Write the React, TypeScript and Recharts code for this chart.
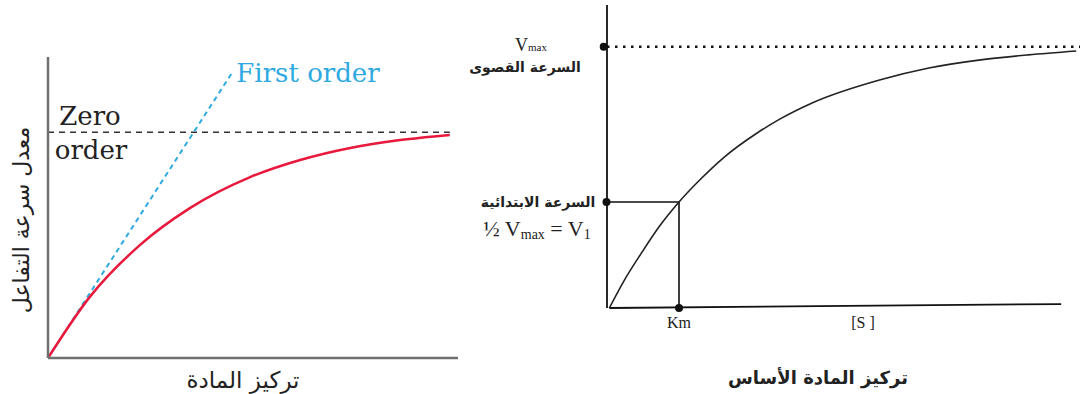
import { LineChart, Line, XAxis, YAxis, ReferenceDot } from "recharts";

// left panel: reaction rate vs substrate concentration
const leftX = [0, 10.2, 22.4, 34.6, 49.3, 61.5, 73.7, 85.9, 98];
const reactionRate = [0, 20.3, 37.5, 49.8, 60.1, 65.8, 69.8, 72.4, 74.1];
const firstOrderX = [0, 45];
const firstOrderY = [0, 95];
const zeroOrderX = [0, 98];
const zeroOrderLevel = 75;

// right panel: Michaelis-Menten curve
const substrate = [0, 3.2, 6.8, 10.6, 14.8, 19.2, 24.3, 31.4, 36.3, 43.2, 57.4, 67.9, 78.5, 89, 99.2];
const velocity = [0, 10.7, 21.0, 31.2, 40.6, 49.0, 57.6, 67.0, 72.4, 78.6, 87.3, 91.9, 94.9, 96.9, 98.4];
const vmax = 100;
const km = 14.8;
const halfV = 40.6;
const baseX = [0, 96];
const baseY = [0, 1.5];

const pts = (xs: number[], ys: number[]) => xs.map((x, i) => ({ x, y: ys[i] }));

const curveData = pts(leftX, reactionRate);
const firstData = pts(firstOrderX, firstOrderY);
const zeroData = pts(zeroOrderX, zeroOrderX.map(() => zeroOrderLevel));

const mmData = pts(substrate, velocity);
const vmaxData = [{ x: -0.5, y: vmax }, { x: 100, y: vmax }];
const kmData = [{ x: 0, y: halfV }, { x: km, y: halfV }, { x: km, y: 0 }];
const baseData = pts(baseX, baseY);

const serif = "'DejaVu Serif', 'Liberation Serif', serif";
const times = "'Liberation Serif', serif";
const arabic = "'DejaVu Sans', sans-serif";

function Txt(props: { x: number; y: number; size: number; children: any; color?: string; family?: string; weight?: any; rotate?: boolean }) {
  const { x, y, size, children, color = "#222", family = serif, weight = "normal", rotate } = props;
  return (
    <div
      style={{
        position: "absolute",
        left: x,
        top: y,
        transform: rotate ? "translate(-50%, -50%) rotate(-90deg)" : "translate(-50%, -50%)",
        fontSize: size,
        fontFamily: family,
        fontWeight: weight,
        color,
        whiteSpace: "nowrap",
        lineHeight: 1,
      }}
    >
      {children}
    </div>
  );
}

export default function App() {
  return (
    <div style={{ position: "absolute", left: 0, top: 0, width: 1080, height: 394, background: "#fff", overflow: "hidden" }}>
      <div style={{ position: "absolute", left: 0, top: 0 }}>
        <LineChart width={470} height={394} margin={{ top: 57, right: 12, bottom: 35, left: 47 }}>
          <XAxis type="number" dataKey="x" domain={[0, 100]} tick={false} tickLine={false} height={1} axisLine={{ stroke: "#707070", strokeWidth: 2.5 }} />
          <YAxis type="number" domain={[0, 100]} tick={false} tickLine={false} width={1} axisLine={{ stroke: "#707070", strokeWidth: 2.5 }} />
          <Line data={zeroData} dataKey="y" type="linear" stroke="#333" strokeWidth={1.5} strokeDasharray="6 5" dot={false} isAnimationActive={false} />
          <Line data={firstData} dataKey="y" type="linear" stroke="#2ea9e2" strokeWidth={2} strokeDasharray="5 4" dot={false} isAnimationActive={false} />
          <Line data={curveData} dataKey="y" type="monotone" stroke="#e8193c" strokeWidth={2.5} dot={false} isAnimationActive={false} />
        </LineChart>
      </div>
      <div style={{ position: "absolute", left: 460, top: 0 }}>
        <LineChart width={620} height={394} margin={{ top: 5, right: 0, bottom: 85, left: 146 }}>
          <XAxis type="number" dataKey="x" domain={[0, 100]} tick={false} tickLine={false} height={1} axisLine={false} />
          <YAxis type="number" domain={[0, 116]} tick={false} tickLine={false} width={1} axisLine={{ stroke: "#111", strokeWidth: 1.8 }} />
          <Line data={baseData} dataKey="y" type="linear" stroke="#111" strokeWidth={1.8} dot={false} isAnimationActive={false} />
          <Line data={vmaxData} dataKey="y" type="linear" stroke="#111" strokeWidth={2.5} strokeDasharray="2.5 5.5" dot={false} isAnimationActive={false} />
          <Line data={kmData} dataKey="y" type="linear" stroke="#111" strokeWidth={1.6} dot={false} isAnimationActive={false} />
          <Line data={mmData} dataKey="y" type="monotone" stroke="#222" strokeWidth={1.6} dot={false} isAnimationActive={false} />
          <ReferenceDot x={-1.2} y={vmax} r={4} fill="#111" stroke="none" ifOverflow="visible" />
          <ReferenceDot x={-0.6} y={halfV} r={4} fill="#111" stroke="none" ifOverflow="visible" />
          <ReferenceDot x={km} y={0} r={4} fill="#111" stroke="none" />
        </LineChart>
      </div>

      <Txt x={308} y={73} size={26} color="#2ea9e2">First order</Txt>
      <Txt x={90} y={116} size={26}>Zero</Txt>
      <Txt x={91} y={150} size={26}>order</Txt>
      <Txt x={22} y={220} size={22} family={arabic} rotate>معدل سرعة التفاعل</Txt>
      <Txt x={243} y={380} size={23} family={arabic}>تركيز المادة</Txt>

      <Txt x={531} y={45} size={18} family={times}>
        V<span style={{ fontSize: 11 }}>max</span>
      </Txt>
      <Txt x={525} y={67} size={14} family={arabic} weight="bold">السرعة القصوى</Txt>
      <Txt x={538} y={202} size={14} family={arabic} weight="bold">السرعة الابتدائية</Txt>
      <Txt x={537} y={230} size={22} family={times}>
        ½ V<span style={{ fontSize: 14, verticalAlign: -3 }}>max</span> = V<span style={{ fontSize: 14, verticalAlign: -3 }}>1</span>
      </Txt>
      <Txt x={679} y={323} size={16} family={times}>Km</Txt>
      <Txt x={863} y={323} size={16} family={times}>[S ]</Txt>
      <Txt x={818} y={378} size={18} family={arabic} weight="bold">تركيز المادة الأساس</Txt>
    </div>
  );
}
